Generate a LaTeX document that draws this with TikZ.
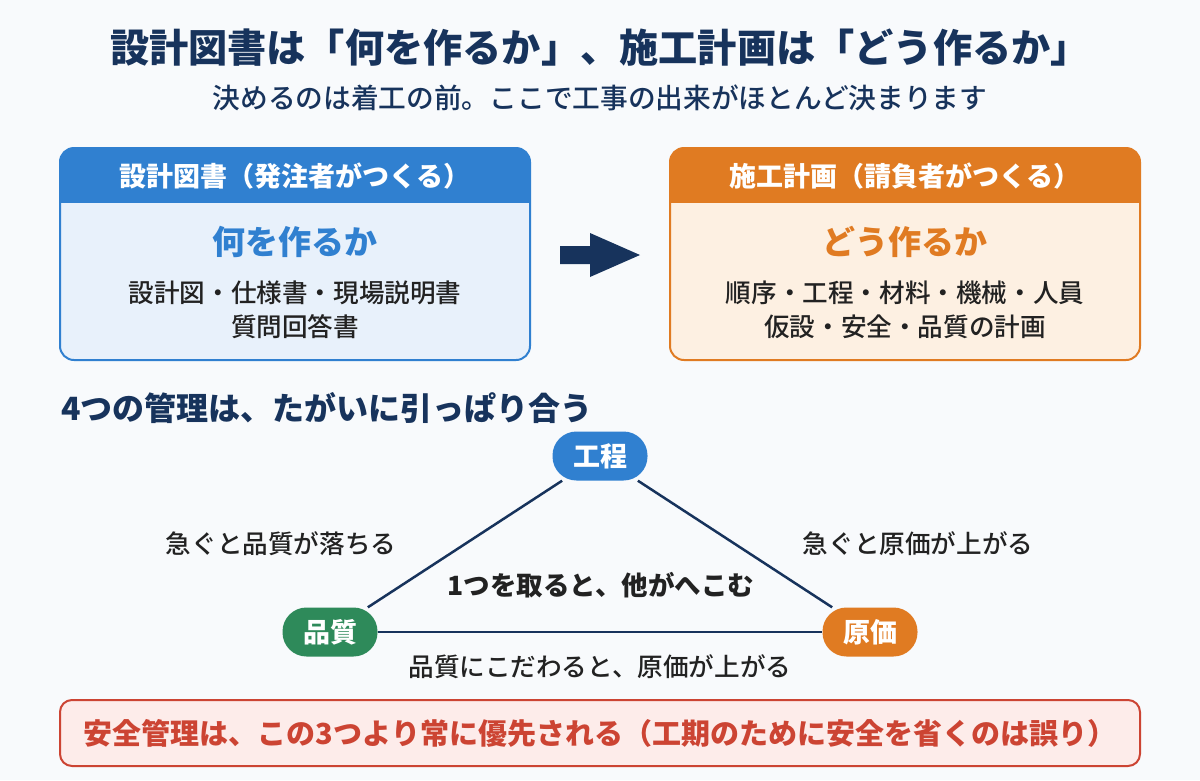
\documentclass[tikz,border=0pt]{standalone}
\usepackage{fontspec}
\setmainfont{Noto Sans CJK JP}
\newfontfamily\med{Noto Sans CJK JP Medium}
\usetikzlibrary{shapes.arrows}
\definecolor{bg}{HTML}{F8FAFC}
\definecolor{navy}{HTML}{17335C}
\definecolor{cblue}{HTML}{3080D0}
\definecolor{cbluebg}{HTML}{E8F1FB}
\definecolor{corange}{HTML}{E07B22}
\definecolor{corangebg}{HTML}{FDF0E2}
\definecolor{cgreen}{HTML}{2E8A5A}
\definecolor{cred}{HTML}{CC4433}
\definecolor{credbg}{HTML}{FDECEA}
\definecolor{ink}{HTML}{222222}
\newcommand{\fs}[1]{\fontsize{#1}{#1}\selectfont}
\tikzset{
  txt/.style={inner sep=0pt, anchor=center},
  pill/.style={rounded corners=24pt, minimum width=95pt, minimum height=49pt, inner sep=0pt, text=white, font=\fs{27}\bfseries},
  edge/.style={draw=navy, line width=2.5pt},
}
\begin{document}
\begin{tikzpicture}[x=1pt,y=-1pt]
\fill[bg] (0,0) rectangle (1200,780);
\useasboundingbox (0,0) rectangle (1200,780);
% title
\node[txt, text=navy, font=\fs{39.2}\bfseries] (title) at (600,48) {設計図書は「何を作るか」、施工計画は「どう作るか」};
\node[txt, text=navy, font=\fs{27.7}\med] (sub) at (600,98) {決めるのは着工の前。ここで工事の出来がほとんど決まります};
% left box
\begin{scope}
\clip[rounded corners=14pt] (60,148) rectangle (530,360);
\fill[cbluebg] (60,148) rectangle (530,360);
\fill[cblue] (60,148) rectangle (530,203);
\end{scope}
\draw[cblue, line width=2pt, rounded corners=14pt] (60,148) rectangle (530,360);
\node[txt, text=white, font=\fs{27}\bfseries] (lh) at (295,176) {設計図書（発注者がつくる）};
\node[txt, text=cblue, font=\fs{33}\bfseries] (lt) at (295,242) {何を作るか};
\node[txt, text=ink, font=\fs{25.6}\med] (l1) at (295,293) {設計図・仕様書・現場説明書};
\node[txt, text=ink, font=\fs{25.6}\med] (l2) at (295,327) {質問回答書};
% right box
\begin{scope}
\clip[rounded corners=14pt] (670,148) rectangle (1140,360);
\fill[corangebg] (670,148) rectangle (1140,360);
\fill[corange] (670,148) rectangle (1140,203);
\end{scope}
\draw[corange, line width=2pt, rounded corners=14pt] (670,148) rectangle (1140,360);
\node[txt, text=white, font=\fs{27}\bfseries] (rh) at (905,176) {施工計画（請負者がつくる）};
\node[txt, text=corange, font=\fs{33}\bfseries] (rt) at (905,242) {どう作るか};
\node[txt, text=ink, font=\fs{25.6}\med] (r1) at (905,293) {順序・工程・材料・機械・人員};
\node[txt, text=ink, font=\fs{25.6}\med] (r2) at (905,327) {仮設・安全・品質の計画};
% arrow
\fill[navy] (560,246) -- (590,246) -- (590,233) -- (640,255) -- (590,277) -- (590,264) -- (560,264) -- cycle;
% heading
\node[inner sep=0pt, anchor=west, text=navy, font=\fs{32}\bfseries] (head) at (61,408) {4つの管理は、たがいに引っぱり合う};
% triangle nodes
\node[pill, fill=cblue] (kt) at (600,456) {工程};
\node[pill, fill=cgreen] (hq) at (330,632) {品質};
\node[pill, fill=corange] (gk) at (870,632) {原価};
\draw[edge] (kt) -- (hq);
\draw[edge] (kt) -- (gk);
\draw[edge] (hq) -- (gk);
\node[txt, text=ink, font=\fs{25.6}\med] (la) at (281,544) {急ぐと品質が落ちる};
\node[txt, text=ink, font=\fs{25.6}\med] (lb) at (918,544) {急ぐと原価が上がる};
\node[txt, text=ink, font=\fs{26.5}\bfseries] (lc) at (601,585) {1つを取ると、他がへこむ};
\node[txt, text=ink, font=\fs{25.6}\med] (ld) at (600,667) {品質にこだわると、原価が上がる};
% bottom box
\draw[cred, fill=credbg, line width=2pt, rounded corners=12pt] (60,700) rectangle (1140,766);
\node[txt, text=cred, font=\fs{29}\bfseries] (bt) at (600,733) {安全管理は、この3つより常に優先される（工期のために安全を省くのは誤り）};
\end{tikzpicture}
\end{document}
